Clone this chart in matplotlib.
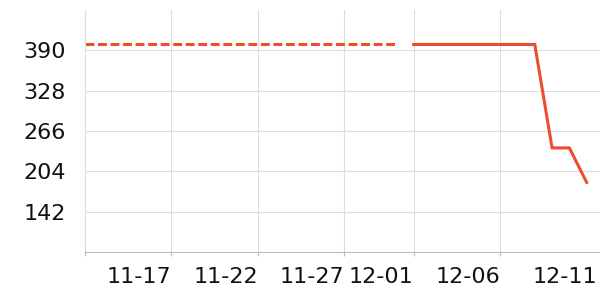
import matplotlib
matplotlib.use("Agg")
import matplotlib.pyplot as plt
import matplotlib.transforms as mtransforms
import numpy as np
import datetime as dt
import matplotlib.dates as mdates

# data
dashed_dates = ["2023-11-12", "2023-11-30"]
dashed_values = [399, 399]
solid_dates = ["2023-12-01", "2023-12-08", "2023-12-09", "2023-12-10", "2023-12-11"]
solid_values = [399, 399, 240, 240, 187]
x_tick_dates = ["2023-11-12", "2023-11-17", "2023-11-22", "2023-11-27",
                "2023-12-01", "2023-12-06", "2023-12-11"]
x_tick_labels = ["", "11-17", "11-22", "11-27", "12-01", "12-06", "12-11"]
y_ticks = [142, 204, 266, 328, 390]

color = "#ee4d2d"

def to_dt(lst):
    return [dt.datetime.strptime(s, "%Y-%m-%d") for s in lst]

fig = plt.figure(figsize=(6, 3), dpi=100)
ax = fig.add_axes([85 / 600, 1 - 252 / 300, 1 - 85 / 600, (252 - 10) / 300])

ax.plot(to_dt(dashed_dates), dashed_values, color=color, lw=2.2,
        dashes=(2.9, 1.2), solid_capstyle="butt", dash_capstyle="butt")
ax.plot(to_dt(solid_dates), solid_values, color=color, lw=2.2,
        solid_joinstyle="miter")

x0 = dt.datetime(2023, 11, 12)
ax.set_xlim(x0, x0 + dt.timedelta(days=29.77))
ax.set_ylim(80, 452)

ax.set_yticks(y_ticks)
ax.set_yticklabels([str(v) for v in y_ticks])
ax.set_xticks(to_dt(x_tick_dates))
ax.set_xticklabels(x_tick_labels)

ax.grid(True, color="#dddddd", lw=0.8)
ax.set_axisbelow(True)
for s in ["top", "right"]:
    ax.spines[s].set_visible(False)
ax.spines["left"].set_color("#dddddd")
ax.spines["left"].set_linewidth(0.8)
ax.spines["bottom"].set_color("#bbbbbb")
ax.spines["bottom"].set_linewidth(0.8)

ax.tick_params(axis="y", length=0, pad=14, labelsize=16, labelcolor="#111111")
ax.tick_params(axis="x", length=3, color="#bbbbbb", pad=8, labelsize=16,
               labelcolor="#111111")

for lbl in ax.get_xticklabels():
    lbl.set_ha("right")
last = ax.get_xticklabels()[-1]
last.set_transform(last.get_transform() + mtransforms.ScaledTranslation(0.11, 0, fig.dpi_scale_trans))
ax.xaxis.get_gridlines()[-1].set_visible(False)
ax.xaxis.get_major_ticks()[-1].tick1line.set_visible(False)

fig.savefig("out.png", dpi=100)
